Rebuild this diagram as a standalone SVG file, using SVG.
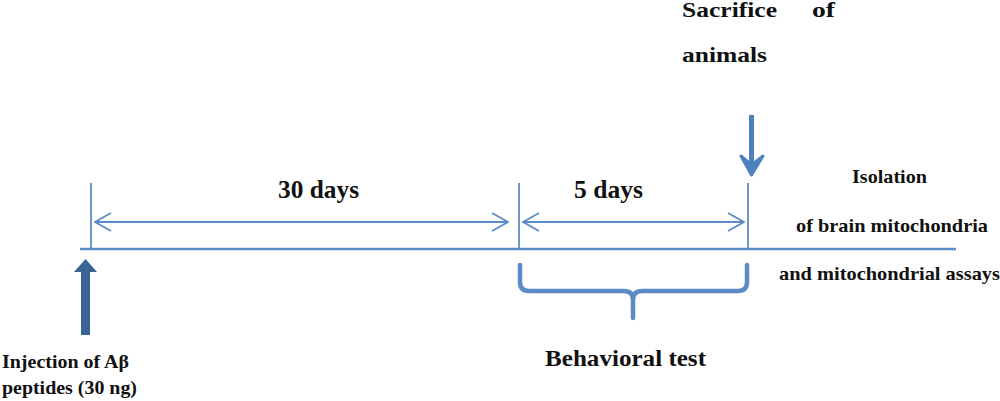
<svg xmlns="http://www.w3.org/2000/svg" width="1000" height="401" viewBox="0 0 1000 401">
<defs>
<style>
.t{font-family:"Liberation Serif","Times New Roman",serif;font-weight:bold;fill:#111;}
.ln{stroke:#5b8cc8;stroke-width:1.8;fill:none;}
.main{stroke:#5b8cc8;stroke-width:2.5;fill:none;}
</style>
<marker id="ch" viewBox="0 0 20 20" refX="19" refY="10" markerWidth="20" markerHeight="20" markerUnits="userSpaceOnUse" orient="auto-start-reverse">
<path d="M3,1 L19,10 L3,19" fill="none" stroke="#5b8cc8" stroke-width="1.8"/>
</marker>
</defs>
<rect width="1000" height="401" fill="#ffffff"/>
<g id="connectors">
<line id="timeline" class="main" x1="80" y1="249" x2="956" y2="249"/>
<line class="ln" x1="91" y1="183" x2="91" y2="249"/>
<line class="ln" x1="519" y1="183" x2="519" y2="249"/>
<line class="ln" x1="748" y1="183" x2="748" y2="249"/>
<line class="ln" x1="95" y1="222" x2="508" y2="222" marker-start="url(#ch)" marker-end="url(#ch)"/>
<line class="ln" x1="523" y1="222" x2="744" y2="222" marker-start="url(#ch)" marker-end="url(#ch)"/>
<path id="brace" d="M520,265 L520,282 Q520,291 529,291 L624,291 Q633,291 633,300 L633,318 M633,300 Q633,291 642,291 L738,291 Q747,291 747,282 L747,265" fill="none" stroke="#5b8cc8" stroke-width="4.5" stroke-linecap="round"/>
</g>
<g id="injection">
<path d="M81,335 L81,272 L74,272 L85.5,259 L97,272 L90,272 L90,335 Z" fill="#3b6496"/>
<text class="t" x="2" y="368" font-size="18.5" textLength="127" lengthAdjust="spacingAndGlyphs">Injection of Aβ</text>
<text class="t" x="2" y="394" font-size="18.5" textLength="135" lengthAdjust="spacingAndGlyphs">peptides (30 ng)</text>
</g>
<g id="sacrifice">
<line x1="751.5" y1="115" x2="751.5" y2="166" stroke="#4f81bd" stroke-width="5"/>
<path d="M741,156 L751.5,175 L763,156 L751.5,165 Z" fill="#4f81bd" stroke="#4f81bd" stroke-width="3" stroke-linejoin="round"/>
<text class="t" x="682" y="17" font-size="21" textLength="95" lengthAdjust="spacingAndGlyphs">Sacrifice</text>
<text class="t" x="812" y="17" font-size="21" textLength="23" lengthAdjust="spacingAndGlyphs">of</text>
<text class="t" x="682" y="62" font-size="21" textLength="85" lengthAdjust="spacingAndGlyphs">animals</text>
</g>
<g id="label-30days">
<text class="t" x="278" y="198" font-size="25" textLength="81" lengthAdjust="spacingAndGlyphs">30 days</text>
</g>
<g id="label-5days">
<text class="t" x="574" y="198" font-size="25" textLength="69" lengthAdjust="spacingAndGlyphs">5 days</text>
</g>
<g id="isolation">
<text class="t" x="852" y="183" font-size="19" textLength="75" lengthAdjust="spacingAndGlyphs">Isolation</text>
<text class="t" x="796" y="232" font-size="19" textLength="192" lengthAdjust="spacingAndGlyphs">of brain mitochondria</text>
<text class="t" x="779" y="280" font-size="19" textLength="221" lengthAdjust="spacingAndGlyphs">and mitochondrial assays</text>
</g>
<g id="behavioral">
<text class="t" x="545" y="366" font-size="23" textLength="161" lengthAdjust="spacingAndGlyphs">Behavioral test</text>
</g>
</svg>
